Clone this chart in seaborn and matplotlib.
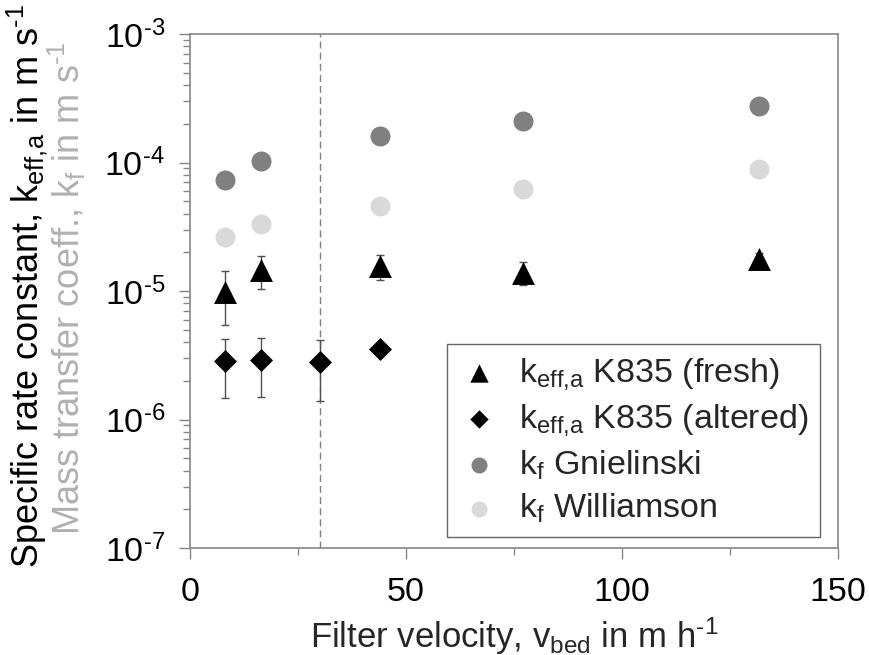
import numpy as np
import pandas as pd
import matplotlib
matplotlib.use("Agg")
import matplotlib.pyplot as plt
from matplotlib.ticker import LogLocator, MultipleLocator, NullFormatter, FuncFormatter
import seaborn as sns

# ---- data ----
x_fresh = [8.1, 16.4, 44.0, 77.0, 131.8]
k_fresh = [9.9e-6, 1.45e-5, 1.57e-5, 1.39e-5, 1.76e-5]
err_fresh = [4.5e-6, 4.1e-6, 3.5e-6, 2.8e-6, 2.0e-6]

x_altered = [8.1, 16.4, 30.2, 44.0]
k_altered = [2.87e-6, 2.9e-6, 2.78e-6, 3.55e-6]
err_altered = [1.39e-6, 1.39e-6, 1.39e-6, 0.4e-6]

x_kf = [8.1, 16.4, 44.0, 77.0, 131.8]
kf_gnielinski = [7.34e-5, 1.02e-4, 1.61e-4, 2.12e-4, 2.77e-4]
kf_williamson = [2.63e-5, 3.34e-5, 4.61e-5, 6.21e-5, 8.89e-5]

x_ref_line = 30
x_ticks = [0, 50, 100, 150]

labels = [r"k$_{\text{eff,a}}$ K835 (fresh)",
          r"k$_{\text{eff,a}}$ K835 (altered)",
          r"k$_{\text{f}}$ Gnielinski",
          r"k$_{\text{f}}$ Williamson"]

# ---- style ----
sns.set_style("white")
plt.rcParams["font.family"] = ["Liberation Sans", "DejaVu Sans"]
plt.rcParams["mathtext.fontset"] = "custom"
plt.rcParams["mathtext.rm"] = "Liberation Sans"
plt.rcParams["mathtext.it"] = "Liberation Sans:italic"
plt.rcParams["mathtext.bf"] = "Liberation Sans:bold"

FS = 24.5
FS_LAB = 25
FS_YLAB = 26
GRAY_SPINE = "#868686"

fig = plt.figure(figsize=(8.7, 6.55), dpi=100)
ax = fig.add_axes([190 / 870, 1 - 548 / 655, 648 / 870, 514 / 655])

df_fresh = pd.DataFrame({"x": x_fresh, "y": k_fresh, "e": err_fresh})
df_alt = pd.DataFrame({"x": x_altered, "y": k_altered, "e": err_altered})
df_kf = pd.DataFrame({"x": x_kf, "g": kf_gnielinski, "w": kf_williamson})

# reference line
ax.axvline(x_ref_line, color="#808080", lw=1.0, ls=(0, (5, 3)), zorder=0)

# error bars
ekw = dict(fmt="none", ecolor="#505050", elinewidth=1.0, capsize=3.0,
           capthick=1.0, zorder=1)
ax.errorbar(df_fresh["x"], df_fresh["y"], yerr=df_fresh["e"], **ekw)
ax.errorbar(df_alt["x"], df_alt["y"], yerr=df_alt["e"], **ekw)

# markers
sns.scatterplot(data=df_fresh, x="x", y="y", marker="^", s=272, color="black",
                linewidth=0, ax=ax, zorder=3, label=labels[0])
sns.scatterplot(data=df_alt, x="x", y="y", marker="D", s=137, color="black",
                linewidth=0, ax=ax, zorder=3, label=labels[1])
sns.scatterplot(data=df_kf, x="x", y="g", marker="o", s=207, color="#808080",
                linewidth=0, ax=ax, zorder=3, label=labels[2])
sns.scatterplot(data=df_kf, x="x", y="w", marker="o", s=207, color="#D9D9D9",
                linewidth=0, ax=ax, zorder=3, label=labels[3])

ax.set_yscale("log")
ax.set_ylim(1e-7, 1e-3)
ax.set_xlim(0, 150)
ax.set_xticks(x_ticks)
ax.xaxis.set_minor_locator(MultipleLocator(25))
ax.yaxis.set_major_locator(LogLocator(base=10, numticks=10))
ax.yaxis.set_minor_locator(LogLocator(base=10, subs=np.arange(2, 10), numticks=20))
ax.yaxis.set_minor_formatter(NullFormatter())
ax.yaxis.set_major_formatter(FuncFormatter(
    lambda v, p: r"10$^{\text{%d}}$" % int(round(np.log10(v)))))

for sp in ax.spines.values():
    sp.set_color(GRAY_SPINE)
    sp.set_linewidth(1.2)

ax.tick_params(axis="both", which="both", direction="out", colors=GRAY_SPINE,
               labelcolor="black", labelsize=FS, top=False, right=False)
ax.tick_params(axis="both", which="major", length=8, width=1.0)
ax.tick_params(axis="both", which="minor", length=5, width=1.0)
ax.tick_params(axis="y", which="major", pad=10, left=True)
ax.tick_params(axis="y", which="minor", left=True)
ax.tick_params(axis="x", which="major", pad=13, bottom=True)
ax.tick_params(axis="x", which="minor", bottom=True)

ax.set_xlabel(r"Filter velocity, v$_{\text{bed}}$ in m h$^{\text{-1}}$",
              fontsize=FS_LAB, labelpad=5)
ax.set_ylabel("")

fig.text(27 / 870, 1 - 286 / 655,
         r"Specific rate constant, k$_{\text{eff,a}}$ in m s$^{\text{-1}}$",
         rotation=90, ha="center", va="center", fontsize=FS_YLAB, color="black")
fig.text(67 / 870, 1 - 288 / 655,
         r"Mass transfer coeff., k$_{\text{f}}$ in m s$^{\text{-1}}$",
         rotation=90, ha="center", va="center", fontsize=FS_YLAB, color="#B0B0B0")

leg = ax.legend(loc="lower right", bbox_to_anchor=(0.972, 0.021), fontsize=FS,
                frameon=True, fancybox=False, edgecolor="#404040",
                markerscale=0.8, labelspacing=0.3, handletextpad=0.55,
                borderpad=0.35, handlelength=1.2, borderaxespad=0)
leg.get_frame().set_linewidth(1.0)

fig.savefig("out.png", dpi=100)
